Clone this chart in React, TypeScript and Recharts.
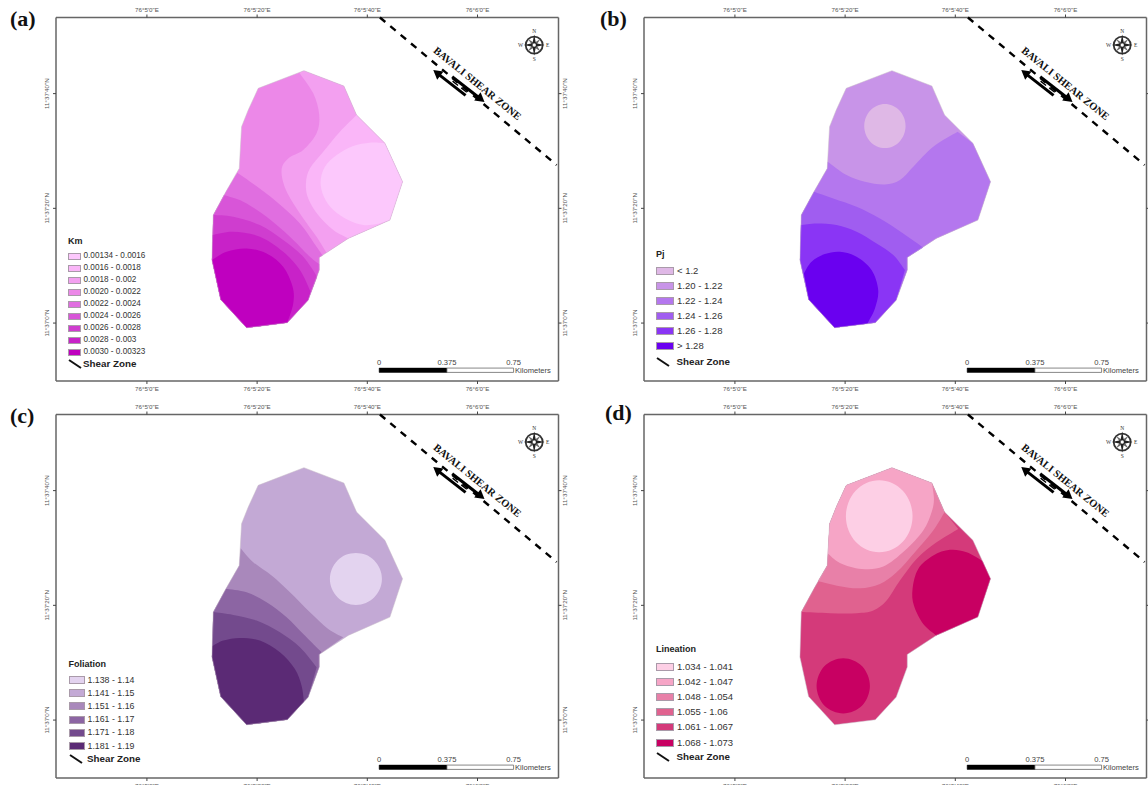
import { ReferenceArea, Scatter, ScatterChart, XAxis, YAxis } from 'recharts';

// Map panels of anisotropy parameters. All geometry is in arc seconds east of
// 76°5'0"E and north of 11°37'0"N.

type Pair = [number, number];

const lonTicks = [0, 20, 40, 60];
const latTicks = [0, 20, 40];
const lonLabels = ['76°5\'0"E', '76°5\'20"E', '76°5\'40"E', '76°6\'0"E'];
const latLabels = ['11°37\'0"N', '11°37\'20"N', '11°37\'40"N'];

const outline: Pair[] = [
  [28.5, 44.0], [35.75, 41.33], [38.05, 36.27], [43.2, 31.33], [46.4, 24.64],
  [44.1, 17.95], [36.54, 14.76], [31.28, 11.44], [31.28, 9.23], [29.28, 4.0],
  [25.47, 0.05], [18.09, -0.83], [13.37, 4.12], [11.8, 10.98], [12.04, 18.83],
  [14.34, 22.9], [16.76, 26.96], [17.18, 34.23], [18.39, 37.14], [20.2, 40.92],
];

const shearLine: Pair[] = [[42.29, 53.27], [74.36, 27.55]];

// Km contours
const kmBand3: Pair[] = [[32.59, 12.25], [30.79, 15.05], [27.77, 19.12], [25.23, 23.19], [24.44, 26.67], [25.65, 28.71], [28.37, 30.16], [30.79, 33.07], [31.28, 36.27], [30.19, 40.05], [27.65, 43.65]];
const kmBand2: Pair[] = [[36.54, 14.76], [33.82, 16.21], [31.08, 18.82], [29.28, 21.73], [28.86, 24.35], [29.58, 26.96], [32.0, 29.87], [35.03, 33.36], [38.05, 36.27]];
const kmBand1: Pair[] = [[44.1, 17.95], [41.68, 17.25], [39.26, 17.08], [36.54, 17.95], [33.82, 19.7], [32.12, 22.02], [31.52, 24.64], [32.31, 27.25], [34.43, 29.29], [37.45, 30.86], [40.47, 31.44], [43.2, 31.33]];
const kmBand5: Pair[] = [[16.4, 26.21], [19.6, 24.06], [23.53, 21.15], [27.77, 17.37], [30.79, 13.3], [31.9, 11.79]];
const kmBand6: Pair[] = [[13.98, 22.31], [17.48, 21.15], [21.72, 18.53], [25.95, 15.05], [29.58, 11.56], [31.28, 10.28]];
const kmBand7: Pair[] = [[12.04, 18.83], [15.67, 18.53], [20.51, 17.08], [24.73, 14.46], [28.37, 11.56], [30.91, 8.07]];
const kmBand8: Pair[] = [[11.92, 15.34], [15.67, 15.92], [20.51, 15.05], [24.73, 12.43], [27.77, 9.23], [29.7, 5.45]];
const kmBand9: Pair[] = [[11.8, 10.98], [14.46, 12.43], [18.09, 13.01], [21.72, 12.14], [24.73, 9.81], [26.44, 6.33], [26.56, 3.42], [25.47, 0.05]];

// Pj contours
const pjLow: Pair[] = [[30.97, 34.35], [30.68, 35.82], [29.87, 37.07], [28.65, 37.9], [27.22, 38.19], [25.79, 37.9], [24.57, 37.07], [23.76, 35.82], [23.47, 34.35], [23.76, 32.88], [24.57, 31.63], [25.79, 30.8], [27.22, 30.51], [28.65, 30.8], [29.87, 31.63], [30.68, 32.88]];
const pjBand3: Pair[] = [[16.82, 28.13], [20.27, 25.8], [23.59, 24.64], [27.22, 24.17], [29.95, 24.93], [32.37, 27.25], [36.0, 30.74], [40.41, 33.36]];
const pjBand4: Pair[] = [[14.34, 22.9], [17.85, 21.73], [22.08, 20.28], [26.32, 18.24], [30.55, 15.63], [34.18, 13.19]];
const pjBand5: Pair[] = [[11.98, 17.08], [14.82, 17.37], [18.45, 17.08], [22.08, 15.92], [25.71, 13.88], [28.74, 11.85], [30.85, 9.23]];
const pjBand6: Pair[] = [[12.52, 8.65], [13.91, 10.69], [16.33, 12.02], [19.06, 12.43], [22.08, 11.56], [24.8, 9.23], [26.01, 5.74], [25.41, 2.55], [24.02, -0.13]];

// Foliation contours
const folLow: Pair[] = [[42.65, 24.61], [42.29, 26.34], [41.27, 27.81], [39.74, 28.8], [37.93, 29.14], [36.12, 28.8], [34.59, 27.81], [33.57, 26.34], [33.21, 24.61], [33.57, 22.88], [34.59, 21.41], [36.12, 20.42], [37.93, 20.08], [39.74, 20.42], [41.27, 21.41], [42.29, 22.88]];
const folBand3: Pair[] = [[17.0, 29.96], [19.3, 27.52], [22.63, 25.19], [25.96, 22.28], [29.59, 18.79], [32.91, 15.89], [35.64, 14.43]];
const folBand4: Pair[] = [[14.34, 22.9], [18.09, 22.28], [21.72, 20.54], [25.35, 17.92], [28.38, 15.0], [31.7, 11.82]];
const folBand5: Pair[] = [[12.04, 18.83], [15.67, 18.33], [19.91, 17.34], [24.14, 15.3], [27.77, 12.69], [30.8, 9.2]];
const folBand6: Pair[] = [[11.86, 12.86], [13.86, 13.85], [16.88, 14.32], [20.51, 13.85], [24.14, 11.82], [26.86, 8.91], [28.07, 6.0], [28.5, 3.21]];

// Lineation contours
const linLow: Pair[] = [[32.24, 35.54], [31.78, 37.93], [30.47, 39.98], [28.51, 41.34], [26.19, 41.82], [23.87, 41.34], [21.91, 39.98], [20.6, 37.93], [20.14, 35.54], [20.6, 33.15], [21.91, 31.1], [23.87, 29.74], [26.19, 29.26], [28.51, 29.74], [30.47, 31.1], [31.78, 33.15]];
const linBand2: Pair[] = [[35.75, 41.33], [36.12, 38.56], [35.69, 36.24], [34.18, 33.04], [30.85, 29.55], [26.92, 26.76], [22.99, 26.35], [19.06, 27.4], [16.82, 29.08]];
const linBand3: Pair[] = [[38.05, 36.27], [35.99, 33.04], [32.67, 29.26], [29.34, 25.77], [26.32, 23.74], [22.69, 22.98], [19.06, 23.33], [15.06, 24.26]];
const linBand4: Pair[] = [[40.53, 33.33], [36.6, 31.0], [32.97, 28.1], [29.95, 24.32], [27.53, 20.83], [25.11, 19.08], [22.08, 18.62], [17.24, 18.62], [12.04, 18.83]];
const linHighEast: Pair[] = [[36.54, 14.76], [34.18, 16.76], [32.49, 19.96], [32.24, 22.86], [33.27, 26.35], [35.99, 28.68], [39.02, 29.67], [42.05, 29.26], [44.95, 27.75]];
const linHighSouth: Pair[] = [[24.5, 5.96], [24.11, 7.8], [23.1, 9.39], [21.5, 10.4], [19.66, 10.79], [17.82, 10.4], [16.22, 9.39], [15.21, 7.8], [14.82, 5.96], [15.21, 4.12], [16.22, 2.53], [17.82, 1.52], [19.66, 1.13], [21.5, 1.52], [23.1, 2.53], [24.11, 4.12]];

const kmLabels = ['0.00134 - 0.0016', '0.0016 - 0.0018', '0.0018 - 0.002', '0.0020 - 0.0022', '0.0022 - 0.0024', '0.0024 - 0.0026', '0.0026 - 0.0028', '0.0028 - 0.003', '0.0030 - 0.00323'];
const kmColors = ['#fcc8fc', '#fab6f8', '#f3a0f0', '#ec88e8', '#e06ee0', '#d855d8', '#cf3dcf', '#c822c8', '#bf00bf'];
const pjLabels = ['< 1.2', '1.20 - 1.22', '1.22 - 1.24', '1.24 - 1.26', '1.26 - 1.28', '> 1.28'];
const pjColors = ['#dfb8e6', '#c894e8', '#b477ee', '#a05df0', '#8a35f5', '#6a00f0'];
const folLabels = ['1.138 - 1.14', '1.141 - 1.15', '1.151 - 1.16', '1.161 - 1.17', '1.171 - 1.18', '1.181 - 1.19'];
const folColors = ['#e3d3ef', '#c3a9d5', '#a988bb', '#8c65a3', '#734a8d', '#5b2a75'];
const linLabels = ['1.034 - 1.041', '1.042 - 1.047', '1.048 - 1.054', '1.055 - 1.06', '1.061 - 1.067', '1.068 - 1.073'];
const linColors = ['#fdcfe5', '#f6a5c6', '#e880a8', '#e0628f', '#d43a7a', '#c80062'];

const scaleBarStops = [42.15, 54.45, 66.55];
const scaleBarLabels = ['0', '0.375', '0.75'];
const scaleBarLat = [-8.6, -7.85];
const scaleLabelLat = -6.8;
const kilometersAt: Pair = [66.8, -8.28];
const compassAt: Pair = [70.29, 48.47];
const arrowsAt: Pair = [56.62, 41.32];
const shearTextAt: Pair = [59.98, 41.76];

const lonDomain = [-16.5, 74.7];
const latDomain = [-10.1, 53.27];

const SANS = '"Liberation Sans", Arial, sans-serif';
const SERIF = '"Liberation Serif", "Times New Roman", serif';

const toPoints = (pairs: Pair[]) => pairs.map(([x, y]) => ({ x, y }));

// Curve factory for Recharts: the first n points go through a Catmull-Rom
// spline (the contour), the rest are straight map-edge segments. n < 0 makes
// the whole ring a closed spline.
const contourCurve = (n: number) => (ctx: any) => {
  let pts: number[][] = [];
  const total = () => pts.length;
  const at = (i: number, lim: number, wrap: boolean) =>
    wrap ? pts[(i + lim) % lim] : pts[Math.max(0, Math.min(lim - 1, i))];
  const spline = (i: number, lim: number, wrap: boolean) => {
    const [p0, p1, p2, p3] = [at(i - 2, lim, wrap), at(i - 1, lim, wrap), at(i, lim, wrap), at(i + 1, lim, wrap)];
    ctx.bezierCurveTo(
      p1[0] + (p2[0] - p0[0]) / 6,
      p1[1] + (p2[1] - p0[1]) / 6,
      p2[0] - (p3[0] - p1[0]) / 6,
      p2[1] - (p3[1] - p1[1]) / 6,
      p2[0],
      p2[1],
    );
  };
  return {
    areaStart() {},
    areaEnd() {},
    lineStart() {
      pts = [];
    },
    point(x: number, y: number) {
      pts.push([x, y]);
    },
    lineEnd() {
      ctx.moveTo(pts[0][0], pts[0][1]);
      if (n < 0) {
        for (let i = 1; i <= total(); i++) spline(i, total(), true);
      } else {
        for (let i = 1; i < total(); i++) {
          if (i < n) spline(i, n, false);
          else ctx.lineTo(pts[i][0], pts[i][1]);
        }
      }
      ctx.closePath();
    },
  };
};

// contour followed by the stretch of outline that closes it (clockwise, wraps)
function band(fill: string, contour: Pair[], from: number, to: number): Layer {
  const arc: Pair[] = [];
  let i = from;
  for (;;) {
    arc.push(outline[i]);
    if (i === to) break;
    i = (i + 1) % outline.length;
  }
  return { fill, points: [...contour, ...arc], curved: contour.length };
}

const ring = (fill: string, points: Pair[]): Layer => ({ fill, points, curved: -1 });
const whole = (fill: string): Layer => ({ fill, points: outline, curved: 0 });

interface Layer {
  fill: string;
  points: Pair[];
  curved: number;
}

const kmLayers: Layer[] = [
  whole(kmColors[3]),
  band(kmColors[2], kmBand3, 0, 6),
  band(kmColors[1], kmBand2, 3, 5),
  band(kmColors[0], kmBand1, 4, 4),
  band(kmColors[4], kmBand5, 7, 15),
  band(kmColors[5], kmBand6, 8, 14),
  band(kmColors[6], kmBand7, 9, 13),
  band(kmColors[7], kmBand8, 9, 13),
  band(kmColors[8], kmBand9, 11, 12),
];

const pjLayers: Layer[] = [
  whole(pjColors[1]),
  ring(pjColors[0], pjLow),
  band(pjColors[2], pjBand3, 3, 16),
  band(pjColors[3], pjBand4, 7, 14),
  band(pjColors[4], pjBand5, 9, 13),
  band(pjColors[5], pjBand6, 11, 12),
];

const folLayers: Layer[] = [
  whole(folColors[1]),
  ring(folColors[0], folLow),
  band(folColors[2], folBand3, 7, 16),
  band(folColors[3], folBand4, 7, 14),
  band(folColors[4], folBand5, 9, 13),
  band(folColors[5], folBand6, 10, 13),
];

const linLayers: Layer[] = [
  whole(linColors[4]),
  band(linColors[3], linBand4, 15, 2),
  band(linColors[2], linBand3, 16, 1),
  band(linColors[1], linBand2, 17, 0),
  ring(linColors[0], linLow),
  band(linColors[5], linHighEast, 4, 5),
  ring(linColors[5], linHighSouth),
];

const NoMark = () => <g />;

function LatTick({ x, y, payload, side, show }: any) {
  if (!show) return <g />;
  const i = latTicks.indexOf(payload.value);
  const lx = side === 'left' ? x - 3 : x + 5;
  return (
    <text
      x={lx}
      y={y}
      transform={`rotate(-90 ${lx} ${y})`}
      textAnchor="middle"
      fontSize={6.2}
      fontFamily={SANS}
      fill="#555"
    >
      {latLabels[i]}
    </text>
  );
}

function Compass({ cx, cy }: any) {
  const long = [0, 90, 180, 270];
  const short = [45, 135, 225, 315];
  const letters = [
    ['N', 0, -12.5],
    ['E', 13.5, 2],
    ['S', 0, 16],
    ['W', -13.5, 2],
  ] as const;
  return (
    <g transform={`translate(${cx} ${cy})`}>
      <circle r={8.5} fill="#fff" stroke="#333" strokeWidth={1.8} />
      {short.map((a) => (
        <polygon key={a} points="0,-9 1.5,-1.5 -1.5,-1.5" fill="#666" transform={`rotate(${a})`} />
      ))}
      {long.map((a) => (
        <polygon key={a} points="0,-10.5 1.7,-1.7 -1.7,-1.7" fill="#222" transform={`rotate(${a})`} />
      ))}
      {letters.map(([t, dx, dy]) => (
        <text key={t} x={dx} y={dy} fontSize={5.5} fontFamily={SERIF} fill="#333" textAnchor="middle">
          {t}
        </text>
      ))}
    </g>
  );
}

function ShearArrows({ cx, cy }: any) {
  return (
    <g transform={`translate(${cx} ${cy}) rotate(38)`} stroke="#000" fill="#000">
      <line x1={-26} y1={3.2} x2={11} y2={3.2} strokeWidth={3} />
      <polygon points="-30,3.2 -21,-2 -21,8.4" stroke="none" />
      <line x1={-11} y1={-3.2} x2={26} y2={-3.2} strokeWidth={3} />
      <polygon points="30,-3.2 21,-8.4 21,2" stroke="none" />
      <line x1={-8} y1={0} x2={-1} y2={0} strokeWidth={1.4} />
      <line x1={3} y1={0} x2={10} y2={0} strokeWidth={1.4} />
    </g>
  );
}

function ShearText({ cx, cy }: any) {
  return (
    <text
      x={cx}
      y={cy}
      dy={3.5}
      transform={`rotate(39 ${cx} ${cy})`}
      textAnchor="middle"
      fontSize={10.5}
      fontWeight="bold"
      fontFamily={SERIF}
      fill="#111"
    >
      BAVALI SHEAR ZONE
    </text>
  );
}

function ScaleText({ cx, cy, text, anchor }: any) {
  return (
    <text x={cx} y={cy} dy={2.6} textAnchor={anchor} fontSize={7.6} fontFamily={SANS} fill="#444">
      {text}
    </text>
  );
}

interface LegendProps {
  title: string;
  labels: string[];
  colors: string[];
  x: number;
  titleY: number;
  rowY: number[];
  swatch: [number, number];
  fontSize: number;
  shearY: number;
}

function MapLegend({ title, labels, colors, x, titleY, rowY, swatch, fontSize, shearY }: LegendProps) {
  const textX = x + swatch[0] + 3;
  return (
    <div style={{ fontFamily: SANS, color: '#333', fontSize, lineHeight: 1 }}>
      <div style={{ position: 'absolute', left: x, top: titleY - 5, fontWeight: 'bold', whiteSpace: 'nowrap', color: '#222', fontSize: 9 }}>
        {title}
      </div>
      {labels.map((label, i) => (
        <div key={label}>
          <div
            style={{
              position: 'absolute',
              left: x,
              top: rowY[i] - swatch[1] / 2,
              width: swatch[0],
              height: swatch[1],
              boxSizing: 'border-box',
              background: colors[i],
              border: '1px solid #a99aa9',
            }}
          />
          <div style={{ position: 'absolute', left: textX, top: rowY[i] - fontSize / 2, whiteSpace: 'nowrap' }}>{label}</div>
        </div>
      ))}
      <svg style={{ position: 'absolute', left: x, top: shearY - 6, width: 16, height: 14 }}>
        <line x1={1} y1={2} x2={13} y2={10} stroke="#111" strokeWidth={2} />
      </svg>
      <div style={{ position: 'absolute', left: x + swatch[0] + 2.5, top: shearY - 5, fontWeight: 'bold', whiteSpace: 'nowrap', color: '#222', fontSize: 9.8 }}>
        Shear Zone
      </div>
    </div>
  );
}

function MapPanel({ left, top, layers, rightLabels }: { left: number; top: number; layers: Layer[]; rightLabels: boolean }) {
  const axisLine = { stroke: '#666', strokeWidth: 1.5 };
  const tickStyle = { fontSize: 6.2, fill: '#555', fontFamily: SANS };
  const formatLon = (v: number) => lonLabels[lonTicks.indexOf(v)];
  return (
    <div style={{ position: 'absolute', left, top }}>
      <ScatterChart width={574} height={400} margin={{ top: 5.5, right: 3.5, bottom: 7, left: 44 }}>
        <XAxis xAxisId="bottom" type="number" dataKey="x" orientation="bottom" height={12} domain={lonDomain} ticks={lonTicks} interval={0} tickSize={3} tickMargin={3} tick={tickStyle} tickFormatter={formatLon} axisLine={axisLine} tickLine={{ stroke: '#444' }} />
        <XAxis xAxisId="top" type="number" dataKey="x" orientation="top" height={12} domain={lonDomain} ticks={lonTicks} interval={0} tickSize={3} tickMargin={3} tick={tickStyle} tickFormatter={formatLon} axisLine={axisLine} tickLine={{ stroke: '#444' }} />
        <YAxis yAxisId="left" type="number" dataKey="y" orientation="left" width={12} domain={latDomain} ticks={latTicks} interval={0} tickSize={3} tickMargin={1} tick={(p: any) => <LatTick {...p} side="left" show />} axisLine={axisLine} tickLine={{ stroke: '#444' }} />
        <YAxis yAxisId="right" type="number" dataKey="y" orientation="right" width={12} domain={latDomain} ticks={latTicks} interval={0} tickSize={3} tickMargin={1} tick={(p: any) => <LatTick {...p} side="right" show={rightLabels} />} axisLine={axisLine} tickLine={{ stroke: '#444' }} />

        {/* the top and right axes only draw their ticks with a series bound to them */}
        <Scatter xAxisId="top" yAxisId="right" data={toPoints(shearLine)} shape={NoMark} isAnimationActive={false} />

        {layers.map((layer, i) => (
          <Scatter
            key={i}
            xAxisId="bottom"
            yAxisId="left"
            data={toPoints(layer.points)}
            shape={NoMark}
            line={{ fill: layer.fill, stroke: 'none' }}
            lineType="joint"
            lineJointType={contourCurve(layer.curved) as any}
            isAnimationActive={false}
          />
        ))}
        <Scatter
          xAxisId="bottom"
          yAxisId="left"
          data={toPoints(outline)}
          shape={NoMark}
          line={{ fill: 'none', stroke: '#c9bcc9', strokeWidth: 0.5 }}
          lineType="joint"
          lineJointType="linearClosed"
          isAnimationActive={false}
        />
        <Scatter
          xAxisId="bottom"
          yAxisId="left"
          data={toPoints(shearLine)}
          shape={NoMark}
          line={{ stroke: '#000', strokeWidth: 2.4, strokeDasharray: '7 6.5' }}
          lineType="joint"
          isAnimationActive={false}
        />

        <Scatter xAxisId="bottom" yAxisId="left" data={toPoints([compassAt])} shape={Compass} isAnimationActive={false} />
        <Scatter xAxisId="bottom" yAxisId="left" data={toPoints([arrowsAt])} shape={ShearArrows} isAnimationActive={false} />
        <Scatter xAxisId="bottom" yAxisId="left" data={toPoints([shearTextAt])} shape={ShearText} isAnimationActive={false} />

        <ReferenceArea xAxisId="bottom" yAxisId="left" x1={scaleBarStops[0]} x2={scaleBarStops[1]} y1={scaleBarLat[0]} y2={scaleBarLat[1]} fill="#000" fillOpacity={1} stroke="#000" strokeWidth={0.5} />
        <ReferenceArea xAxisId="bottom" yAxisId="left" x1={scaleBarStops[1]} x2={scaleBarStops[2]} y1={scaleBarLat[0]} y2={scaleBarLat[1]} fill="#fff" fillOpacity={1} stroke="#555" strokeWidth={0.7} />
        {scaleBarStops.map((lon, i) => (
          <Scatter
            key={lon}
            xAxisId="bottom"
            yAxisId="left"
            data={[{ x: lon, y: scaleLabelLat }]}
            shape={(p: any) => <ScaleText {...p} text={scaleBarLabels[i]} anchor="middle" />}
            isAnimationActive={false}
          />
        ))}
        <Scatter
          xAxisId="bottom"
          yAxisId="left"
          data={toPoints([kilometersAt])}
          shape={(p: any) => <ScaleText {...p} text="Kilometers" anchor="start" />}
          isAnimationActive={false}
        />
      </ScatterChart>
    </div>
  );
}

function PanelLetter({ text, left, top }: { text: string; left: number; top: number }) {
  return (
    <div style={{ position: 'absolute', left, top, fontFamily: SERIF, fontWeight: 'bold', fontSize: 22, lineHeight: 1, color: '#111' }}>
      {text}
    </div>
  );
}

export default function App() {
  return (
    <div style={{ position: 'absolute', left: 0, top: 0, width: 1148, height: 785, overflow: 'hidden', background: '#fff' }}>
      <MapPanel left={0} top={0} layers={kmLayers} rightLabels />
      <MapPanel left={588} top={0} layers={pjLayers} rightLabels={false} />
      <MapPanel left={0} top={396.5} layers={folLayers} rightLabels />
      <MapPanel left={588} top={396.5} layers={linLayers} rightLabels={false} />

      <PanelLetter text="(a)" left={10} top={8} />
      <PanelLetter text="(b)" left={600} top={8} />
      <PanelLetter text="(c)" left={10} top={405} />
      <PanelLetter text="(d)" left={605} top={402} />

      <MapLegend title="Km" labels={kmLabels} colors={kmColors} x={68} titleY={242} rowY={[256, 268, 280, 292, 304, 316, 328, 340, 352]} swatch={[12.5, 7]} fontSize={8.2} shearY={364} />
      <MapLegend title="Pj" labels={pjLabels} colors={pjColors} x={656} titleY={255} rowY={[271, 286, 301, 316, 331, 346]} swatch={[18, 8.5]} fontSize={9.5} shearY={362} />
      <MapLegend title="Foliation" labels={folLabels} colors={folColors} x={68.5} titleY={665} rowY={[680, 693, 706, 719.5, 732.5, 746]} swatch={[16, 8]} fontSize={8.8} shearY={759} />
      <MapLegend title="Lineation" labels={linLabels} colors={linColors} x={656} titleY={650} rowY={[667, 682, 697, 712, 727, 743]} swatch={[18, 8.5]} fontSize={9.5} shearY={757} />
    </div>
  );
}
